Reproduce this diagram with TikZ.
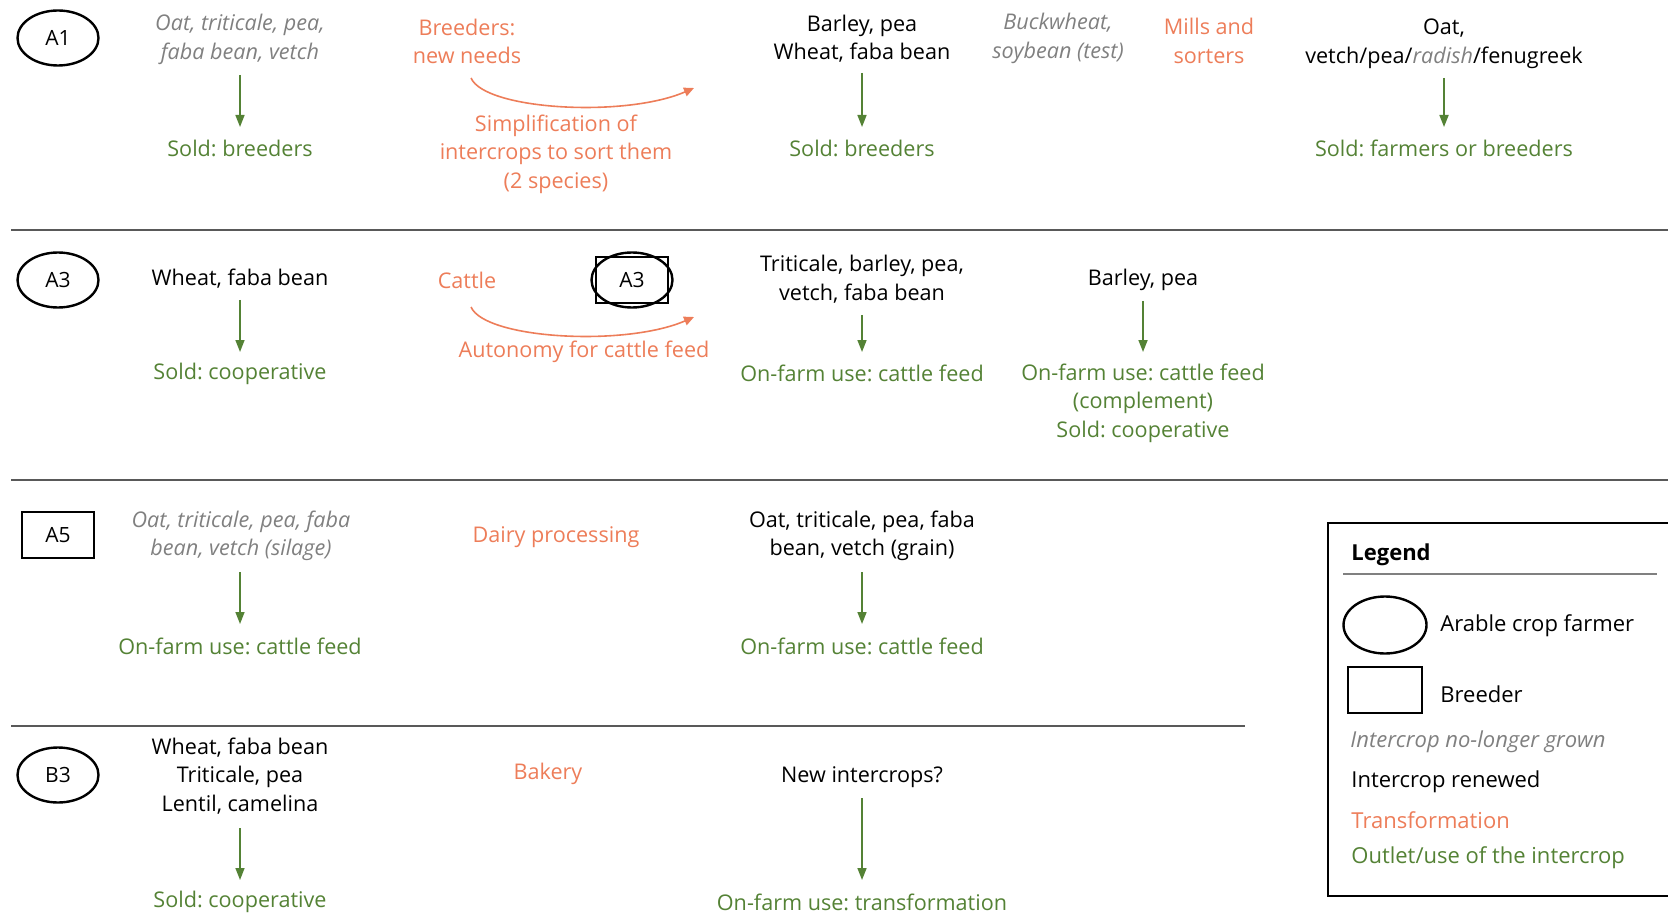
\documentclass[tikz,border=0pt]{standalone}
\usepackage{fontspec}
\setmainfont{Open Sans}
\usetikzlibrary{arrows.meta,shapes.geometric}
\definecolor{ora}{RGB}{237,125,89}
\definecolor{grn}{RGB}{84,130,53}
\definecolor{gry}{RGB}{128,128,128}
\definecolor{sepc}{RGB}{89,89,89}
\frenchspacing
\begin{document}
\frenchspacing
\begin{tikzpicture}[x=0.5pt,y=-0.5pt,
  txt/.style={font=\fontsize{10.8}{14.3}\selectfont, align=center, inner sep=0pt},
  old/.style={txt, text=gry, font=\fontsize{10.8}{14.3}\selectfont\itshape},
  outl/.style={txt, text=grn},
  trans/.style={txt, text=ora},
  farmer/.style={ellipse, draw, line width=1.2pt, minimum width=40.5pt, minimum height=27.5pt, inner sep=0pt, font=\fontsize{10.5}{12}\selectfont},
  breeder/.style={rectangle, draw, line width=1.2pt, minimum width=36pt, minimum height=23pt, inner sep=0pt, font=\fontsize{10.5}{12}\selectfont},
  garr/.style={grn, line width=0.8pt, -{Triangle[length=6pt,width=4.5pt]}},
  oarr/.style={ora, line width=0.8pt, -{Triangle[length=5pt,width=4.5pt]}},
  sepline/.style={sepc, line width=0.8pt},
  lt/.style={anchor=west, inner sep=0pt, font=\fontsize{11}{13.5}\selectfont}
]
\useasboundingbox (0,0) rectangle (1668,914);

% ---------- Row A1 ----------
\node[farmer] (A1) at (58,38) {A1};
\node[old] (c11) at (240,39.5) {Oat, triticale, pea,\\faba bean, vetch};
\coordinate (c11s) at (240,75); \coordinate (o11n) at (240,127);
\draw[garr] (c11s) -- (o11n);
\node[outl] (o11) at (240,148) {Sold: breeders};

\node[trans] (t11) at (467,41.5) {Breeders:\\new needs};
\coordinate (t11a) at (471,78); \coordinate (t11b) at (694,88);
\draw[oarr] (t11a) .. controls (485,110) and (625,118) .. (t11b);
\node[trans] (t12) at (556,154) {Simplification of\\intercrops to sort them\\(2 species)};

\node[txt] (c12) at (862,38.5) {Barley, pea\\Wheat, faba bean};
\coordinate (c12s) at (862,73); \coordinate (o12n) at (862,127);
\draw[garr] (c12s) -- (o12n);
\node[outl] (o12) at (862,148) {Sold: breeders};

\node[old] (c13) at (1058,38.5) {Buckwheat,\\soybean (test)};
\node[trans] (t13) at (1209,41) {Mills and\\sorters};

\node[txt] (c14) at (1444,43.5) {Oat,\\vetch/pea/{\color{gry}\itshape radish}/fenugreek};
\coordinate (c14s) at (1444,78); \coordinate (o14n) at (1444,127);
\draw[garr] (c14s) -- (o14n);
\node[outl] (o14) at (1444,148) {Sold: farmers or breeders};

\draw[sepline] (11,230) -- (1668,230);

% ---------- Row A3 ----------
\node[farmer] (A3) at (58,280) {A3};
\node[txt] (c21) at (240,279) {Wheat, faba bean};
\coordinate (c21s) at (240,300); \coordinate (o21n) at (240,352);
\draw[garr] (c21s) -- (o21n);
\node[outl] (o21) at (240,374) {Sold: cooperative};

\node[trans] (t21) at (467,280) {Cattle};
\node[farmer] (A3e) at (632,280) {};
\node[breeder] (A3r) at (632,280) {A3};
\coordinate (t21a) at (471,307); \coordinate (t21b) at (694,317);
\draw[oarr] (t21a) .. controls (485,339) and (625,347) .. (t21b);
\node[trans] (t22) at (584,352) {Autonomy for cattle feed};

\node[txt] (c22) at (862,279) {Triticale, barley, pea,\\vetch, faba bean};
\coordinate (c22s) at (862,315); \coordinate (o22n) at (862,352);
\draw[garr] (c22s) -- (o22n);
\node[outl] (o22) at (862,373) {On-farm use: cattle feed};

\node[txt] (c23) at (1143,280) {Barley, pea};
\coordinate (c23s) at (1143,301); \coordinate (o23n) at (1143,352);
\draw[garr] (c23s) -- (o23n);
\node[outl] (o23) at (1143,403) {On-farm use: cattle feed\\(complement)\\Sold: cooperative};

\draw[sepline] (11,480) -- (1668,480);

% ---------- Row A5 ----------
\node[breeder] (A5) at (58,535) {A5};
\node[old] (c31) at (241,536) {Oat, triticale, pea, faba\\bean, vetch (silage)};
\coordinate (c31s) at (240,572); \coordinate (o31n) at (240,624);
\draw[garr] (c31s) -- (o31n);
\node[outl] (o31) at (240,646) {On-farm use: cattle feed};

\node[trans] (t31) at (556,537) {Dairy processing};

\node[txt] (c32) at (862,536) {Oat, triticale, pea, faba\\bean, vetch (grain)};
\coordinate (c32s) at (862,572); \coordinate (o32n) at (862,624);
\draw[garr] (c32s) -- (o32n);
\node[outl] (o32) at (862,646) {On-farm use: cattle feed};

\draw[sepline] (11,726) -- (1245,726);

% ---------- Row B3 ----------
\node[farmer] (B3) at (58,775) {B3};
\node[txt] (c41) at (240,776) {Wheat, faba bean\\Triticale, pea\\Lentil, camelina};
\coordinate (c41s) at (240,828); \coordinate (o41n) at (240,880);
\draw[garr] (c41s) -- (o41n);
\node[outl] (o41) at (240,902) {Sold: cooperative};

\node[trans] (t41) at (548,774) {Bakery};

\node[txt] (c42) at (862,777) {New intercrops?};
\coordinate (c42s) at (862,798); \coordinate (o42n) at (862,880);
\draw[garr] (c42s) -- (o42n);
\node[outl] (o42) at (862,902) {On-farm use: transformation};

% ---------- Legend ----------
\draw[line width=1pt] (1700,523) -- (1328,523) -- (1328,896) -- (1700,896);
\node[lt, font=\fontsize{11}{13.5}\selectfont\bfseries] (lg) at (1351,555) {Legend};
\draw[gry, line width=0.8pt] (1343,574) -- (1657,574);
\node[farmer, minimum width=41.5pt, minimum height=28.5pt] (lf) at (1385,625) {};
\node[lt] (lft) at (1440,626) {Arable crop farmer};
\node[breeder, minimum width=37pt] (lb) at (1385,690) {};
\node[lt] (lbt) at (1440,694) {Breeder};
\node[lt, text=gry, font=\fontsize{11}{13.5}\selectfont\itshape] (l1) at (1350,742) {Intercrop no-longer grown};
\node[lt] (l2) at (1351,782) {Intercrop renewed};
\node[lt, text=ora] (l3) at (1351,820) {Transformation};
\node[lt, text=grn] (l4) at (1351,858) {Outlet/use of the intercrop};
\end{tikzpicture}
\end{document}
